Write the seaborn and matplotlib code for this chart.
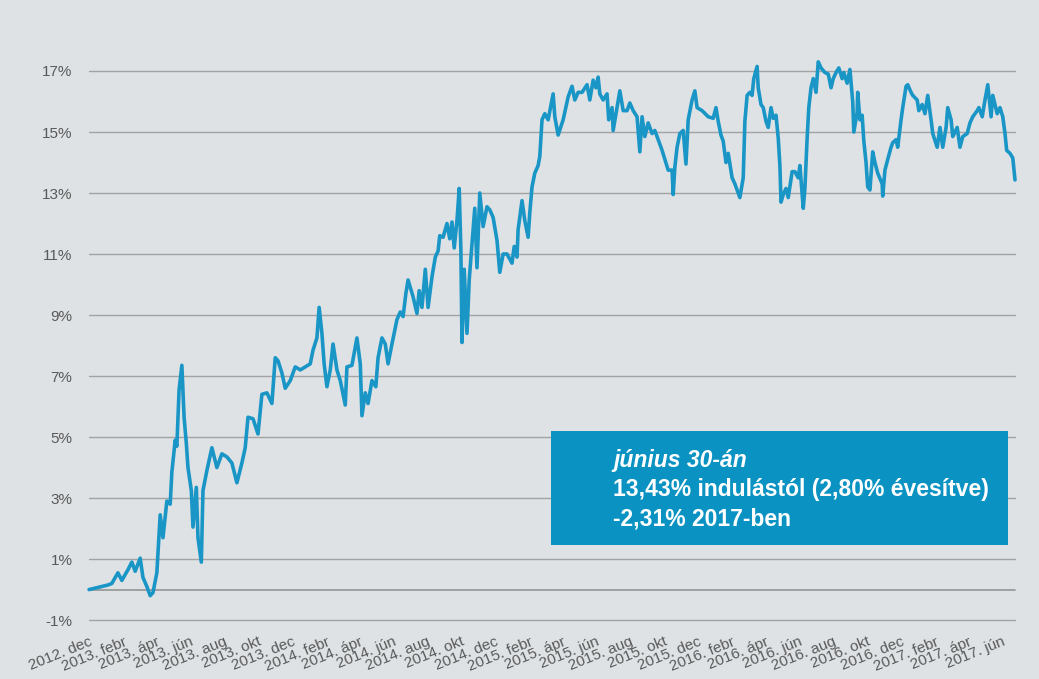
import matplotlib
matplotlib.use("Agg")
import matplotlib.pyplot as plt
import matplotlib.patches as mpatches
import numpy as np
import pandas as pd
import seaborn as sns

# fund performance since launch (cumulative %)
start_date = "2012-12-07"
day_offsets = [
    0, 34, 41, 52, 59, 70, 77, 83, 92, 97, 104, 110, 115, 122, 128, 133, 140, 146,
    149, 155, 158, 162, 167, 171, 175, 178, 184, 187, 193, 196, 202, 205, 212, 221,
    230, 239, 248, 257, 266, 275, 281, 286, 295, 304, 311, 320, 329, 335, 340, 347,
    353, 362, 371, 380, 389, 398, 403, 410, 414, 419, 423, 428, 434, 439, 446, 452,
    461, 464, 473, 482, 488, 491, 497, 502, 509, 516, 520, 527, 533, 538, 545, 554,
    560, 565, 570, 574, 583, 590, 594, 599, 605, 610, 617, 623, 628, 631, 637, 644,
    649, 653, 657, 662, 666, 669, 671, 675, 680, 684, 691, 694, 698, 703, 709, 716,
    721, 727, 734, 739, 745, 752, 761, 765, 770, 772, 779, 784, 790, 793, 797, 802,
    808, 811, 815, 820, 826, 835, 838, 844, 853, 862, 869, 874, 880, 887, 896, 901,
    907, 912, 916, 919, 925, 932, 935, 941, 943, 950, 955, 961, 968, 973, 979, 986,
    991, 995, 1000, 1006, 1013, 1018, 1024, 1031, 1036, 1042, 1049, 1051, 1054, 1058,
    1063, 1069, 1074, 1078, 1085, 1090, 1094, 1103, 1114, 1123, 1128, 1132, 1137,
    1141, 1146, 1150, 1157, 1162, 1168, 1171, 1177, 1180, 1184, 1189, 1193, 1196,
    1202, 1204, 1209, 1213, 1218, 1222, 1227, 1231, 1236, 1240, 1243, 1245, 1249,
    1254, 1258, 1265, 1270, 1276, 1279, 1285, 1288, 1292, 1295, 1299, 1303, 1308,
    1312, 1317, 1324, 1330, 1335, 1339, 1344, 1349, 1355, 1358, 1364, 1369, 1374,
    1376, 1382, 1383, 1387, 1391, 1394, 1398, 1401, 1405, 1410, 1414, 1419, 1427,
    1428, 1432, 1437, 1443, 1446, 1452, 1455, 1461, 1464, 1470, 1473, 1479, 1482,
    1490, 1493, 1499, 1504, 1509, 1515, 1518, 1526, 1531, 1536, 1542, 1545, 1551,
    1554, 1562, 1567, 1572, 1580, 1585, 1590, 1598, 1601, 1607, 1612, 1617, 1623,
    1626, 1634, 1639, 1644, 1648, 1651, 1657, 1662, 1666,
]
returns = [
    0.0, 0.15, 0.2, 0.55, 0.3, 0.65, 0.9, 0.6, 1.03, 0.4, 0.1, -0.2, -0.1, 0.55, 2.45,
    1.7, 2.9, 2.8, 3.85, 4.9, 4.7, 6.55, 7.35, 5.65, 4.8, 4.0, 3.25, 2.05, 3.35, 1.7,
    0.9, 3.25, 3.9, 4.65, 4.0, 4.45, 4.35, 4.15, 3.5, 4.15, 4.65, 5.65, 5.6, 5.1, 6.4,
    6.45, 6.1, 7.6, 7.5, 7.1, 6.6, 6.85, 7.3, 7.2, 7.3, 7.4, 7.85, 8.25, 9.25, 8.4,
    7.4, 6.65, 7.2, 8.05, 7.2, 6.85, 6.05, 7.3, 7.35, 8.25, 7.4, 5.7, 6.45, 6.1, 6.85,
    6.65, 7.6, 8.25, 8.05, 7.4, 8.05, 8.85, 9.1, 8.95, 9.7, 10.15, 9.6, 9.05, 9.8,
    9.25, 10.5, 9.25, 10.25, 10.9, 11.1, 11.6, 11.55, 12.0, 11.5, 12.05, 11.2, 12.1,
    13.15, 11.15, 8.1, 10.5, 8.4, 10.15, 11.8, 12.5, 10.55, 13.0, 11.9, 12.55, 12.45,
    12.2, 11.45, 10.4, 11.0, 11.0, 10.7, 11.25, 10.9, 11.8, 12.75, 12.1, 11.55, 12.35,
    13.2, 13.65, 13.9, 14.2, 15.4, 15.6, 15.4, 16.25, 15.5, 14.9, 15.4, 16.15, 16.5,
    16.05, 16.3, 16.3, 16.55, 16.05, 16.7, 16.45, 16.8, 16.25, 16.05, 16.25, 15.4,
    15.8, 15.05, 15.8, 16.35, 15.7, 15.7, 15.95, 15.7, 15.5, 14.35, 15.5, 14.85, 15.3,
    14.95, 15.05, 14.75, 14.4, 14.1, 13.75, 13.75, 12.95, 13.85, 14.5, 14.95, 15.05,
    13.95, 15.4, 16.05, 16.35, 15.8, 15.7, 15.5, 15.45, 15.8, 15.35, 14.9, 14.7, 14.0,
    14.3, 13.5, 13.3, 13.0, 12.85, 13.5, 15.35, 16.2, 16.3, 16.2, 16.75, 17.15, 16.45,
    15.9, 15.8, 15.35, 15.15, 15.8, 15.45, 15.55, 14.8, 13.9, 12.7, 12.95, 13.15,
    12.85, 13.7, 13.7, 13.5, 13.9, 12.5, 13.15, 14.8, 15.8, 16.45, 16.75, 16.3, 17.3,
    17.1, 16.95, 16.9, 16.45, 16.75, 16.95, 17.1, 16.75, 16.95, 16.6, 17.05, 16.0,
    15.0, 15.65, 16.3, 15.4, 15.55, 14.7, 14.0, 13.2, 13.1, 14.35, 14.0, 13.65, 13.3,
    12.9, 13.75, 14.1, 14.5, 14.65, 14.75, 14.5, 15.4, 15.8, 16.5, 16.55, 16.3, 16.2,
    16.05, 15.7, 15.9, 15.6, 16.2, 15.4, 14.95, 14.5, 15.15, 14.5, 15.15, 15.8, 15.4,
    14.85, 15.15, 14.5, 14.85, 14.95, 15.3, 15.5, 15.7, 15.8, 15.5, 16.05, 16.55,
    15.5, 16.2, 15.6, 15.8, 15.5, 14.95, 14.4, 14.3, 14.15, 13.43,
]

y_ticks = [-1, 1, 3, 5, 7, 9, 11, 13, 15, 17]
x_tick_labels = [
    "2012. dec",
    "2013. febr", "2013. ápr", "2013. jún", "2013. aug", "2013. okt", "2013. dec",
    "2014. febr", "2014. ápr", "2014. jún", "2014. aug", "2014. okt", "2014. dec",
    "2015. febr", "2015. ápr", "2015. jún", "2015. aug", "2015. okt", "2015. dec",
    "2016. febr", "2016. ápr", "2016. jún", "2016. aug", "2016. okt", "2016. dec",
    "2017. febr", "2017. ápr", "2017. jún",
]

box_lines = [
    "június 30-án",
    "13,43% indulástól (2,80% évesítve)",
    "-2,31% 2017-ben",
]

bg = "#dee2e5"
line_blue = "#1a96c6"
box_blue = "#0a93c2"
grid_grey = "#a3a3a3"
text_grey = "#595959"

sns.set_style("white")
plt.rcParams["font.family"] = ["Liberation Sans", "DejaVu Sans"]

data = pd.DataFrame({
    "date": pd.Timestamp(start_date) + pd.to_timedelta(day_offsets, unit="D"),
    "value": returns,
})

fig = plt.figure(figsize=(10.39, 6.79), dpi=100, facecolor=bg)
ax = fig.add_axes([0.0857, 0.0733, 0.8912, 0.8446])
ax.set_facecolor(bg)

for v in y_ticks:
    ax.axhline(v, color=grid_grey, lw=1.0, zorder=1)
ax.axhline(0, color="#9a9a9a", lw=1.3, zorder=1)

sns.lineplot(data=data, x="date", y="value", ax=ax, color=line_blue,
             linewidth=2.6, zorder=3)
for l in ax.lines:
    l.set_clip_on(False)

ax.set_ylim(-1.3, 17.5)
ax.set_xlim(data["date"].iloc[0], data["date"].iloc[-1])
ax.set_yticks(y_ticks)
ax.set_yticklabels([f"{v}%" for v in y_ticks], color=text_grey, fontsize=11)

x_ticks = pd.date_range(start_date, periods=len(x_tick_labels),
                        freq=pd.DateOffset(months=2))
ax.set_xticks(x_ticks)
ax.set_xticklabels(x_tick_labels, rotation=22, ha="right",
                   rotation_mode="anchor", color=text_grey, fontsize=11)
ax.tick_params(axis="both", length=0)
ax.tick_params(axis="y", pad=12)
ax.tick_params(axis="x", pad=4)
ax.set_xlabel("")
ax.set_ylabel("")
for s in ax.spines.values():
    s.set_visible(False)

box = mpatches.Rectangle((0.5303, 0.1973), 0.4398, 0.1679,
                         transform=fig.transFigure, facecolor=box_blue,
                         edgecolor="none", zorder=5)
fig.patches.append(box)
fig.text(0.59, 0.3211, box_lines[0], color="white", fontsize=16.5,
         fontweight="bold", fontstyle="italic", va="center", zorder=6)
fig.text(0.59, 0.2784, box_lines[1], color="white", fontsize=16.5,
         fontweight="bold", va="center", zorder=6)
fig.text(0.59, 0.2356, box_lines[2], color="white", fontsize=16.5,
         fontweight="bold", va="center", zorder=6)

fig.savefig("out.png", dpi=100, facecolor=bg)
